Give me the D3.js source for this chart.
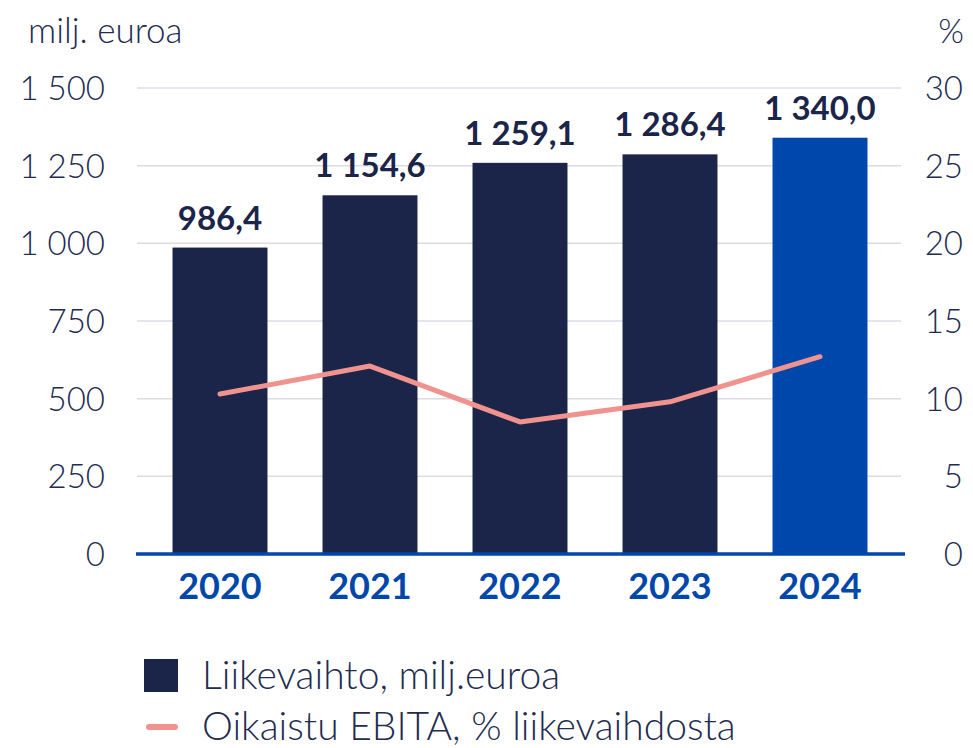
<!DOCTYPE html>
<html><head><meta charset="utf-8">
<script src="https://cdn.jsdelivr.net/npm/d3@7"></script>
<style>
html,body{margin:0;padding:0;background:#fff;}
svg{display:block;font-family:Lato,"Noto Sans",sans-serif;}
</style></head>
<body><svg id="c" width="973" height="748"></svg>
<script>
const years = ["2020","2021","2022","2023","2024"];
const revenue = [986.4, 1154.6, 1259.1, 1286.4, 1340.0];
const revenueLabels = ["986,4","1 154,6","1 259,1","1 286,4","1 340,0"];
const ebitaPct = [10.3, 12.1, 8.5, 9.8, 12.7];
const leftTicks = [0, 250, 500, 750, 1000, 1250, 1500];
const leftTickLabels = ["0","250","500","750","1 000","1 250","1 500"];
const rightTicks = [0, 5, 10, 15, 20, 25, 30];
const legendLabels = ["Liikevaihto, milj.euroa", "Oikaistu EBITA, % liikevaihdosta"];

const navy = "#1b2449", blue = "#0047ab", pink = "#f0938f", textC = "#222b50", grid = "#dcdce4";
const svg = d3.select("#c");

const x = d3.scaleBand().domain(years).range([145, 895]).paddingInner(0.367).paddingOuter(0.1835);
const y = d3.scaleLinear().domain([0, 1500]).range([554, 88]);
const y2 = d3.scaleLinear().domain([0, 30]).range([554, 88]);

// gridlines
svg.append("g").selectAll("line").data(leftTicks.filter(d => d > 0)).join("line")
  .attr("x1", 137).attr("x2", 901).attr("y1", d => y(d)).attr("y2", d => y(d))
  .attr("stroke", grid).attr("stroke-width", 1.5);

// left axis labels
svg.append("g").selectAll("text").data(leftTicks).join("text")
  .attr("x", 105).attr("y", d => y(d)).attr("dy", "0.36em")
  .attr("text-anchor", "end").attr("font-size", 33).attr("font-weight", 300)
  .attr("fill", textC).text((d, i) => leftTickLabels[i]);

// right axis labels
svg.append("g").selectAll("text").data(rightTicks).join("text")
  .attr("x", 963).attr("y", d => y2(d)).attr("dy", "0.36em")
  .attr("text-anchor", "end").attr("font-size", 33).attr("font-weight", 300)
  .attr("fill", textC).text(d => d);

svg.append("text").attr("x", 28).attr("y", 43).attr("font-size", 35).attr("font-weight", 300)
  .attr("fill", textC).text("milj. euroa");
svg.append("text").attr("x", 964).attr("y", 43).attr("text-anchor", "end").attr("font-size", 33).attr("font-weight", 300)
  .attr("fill", textC).text("%");

// bars
svg.append("g").selectAll("rect").data(revenue).join("rect")
  .attr("x", (d, i) => x(years[i])).attr("width", x.bandwidth())
  .attr("y", d => y(d)).attr("height", d => y(0) - y(d))
  .attr("fill", (d, i) => i === years.length - 1 ? blue : navy);

// value labels
svg.append("g").selectAll("text").data(revenue).join("text")
  .attr("x", (d, i) => x(years[i]) + x.bandwidth() / 2).attr("y", d => y(d) - 18)
  .attr("text-anchor", "middle").attr("font-size", 33).attr("font-weight", 700)
  .attr("fill", navy).text((d, i) => revenueLabels[i]);

// baseline
svg.append("line").attr("x1", 136).attr("x2", 905).attr("y1", y(0)).attr("y2", y(0))
  .attr("stroke", blue).attr("stroke-width", 3.5);

// year labels
svg.append("g").selectAll("text").data(years).join("text")
  .attr("x", d => x(d) + x.bandwidth() / 2).attr("y", 599)
  .attr("text-anchor", "middle").attr("font-size", 36).attr("font-weight", 700)
  .attr("fill", blue).text(d => d);

// line
const line = d3.line().x((d, i) => x(years[i]) + x.bandwidth() / 2).y(d => y2(d));
svg.append("path").datum(ebitaPct).attr("d", line).attr("fill", "none")
  .attr("stroke", pink).attr("stroke-width", 5).attr("stroke-linecap", "round").attr("stroke-linejoin", "round");

// legend
svg.append("rect").attr("x", 144).attr("y", 659).attr("width", 34).attr("height", 33).attr("fill", navy);
svg.append("line").attr("x1", 149).attr("x2", 175).attr("y1", 727).attr("y2", 727)
  .attr("stroke", pink).attr("stroke-width", 6).attr("stroke-linecap", "round");
svg.append("g").selectAll("text").data(legendLabels).join("text")
  .attr("x", 202).attr("y", (d, i) => 689 + i * 51)
  .attr("font-size", 39).attr("font-weight", 300).attr("fill", textC).text(d => d);
</script></body></html>
